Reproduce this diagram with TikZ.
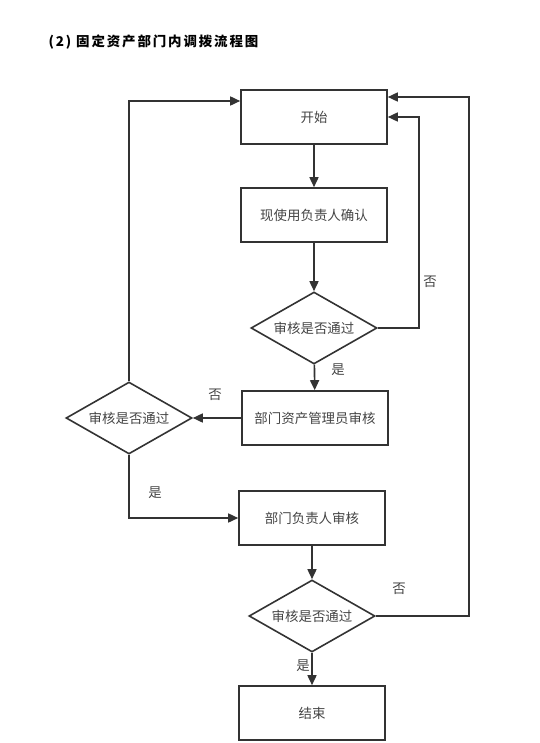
\documentclass[tikz,border=0pt]{standalone}
\usepackage{fontspec}
\setmainfont{Noto Sans CJK SC}
\usetikzlibrary{arrows.meta,shapes.geometric}
\definecolor{ln}{HTML}{333333}
\definecolor{tx}{HTML}{444444}
\tikzset{pin/.style={draw=ln, line width=1.6bp, -{Triangle[length=10bp,width=9bp]}},
  box/.style={draw=ln, line width=1.6bp, text=tx, minimum width=146bp, minimum height=54bp, inner sep=0},
  chk/.style={diamond, aspect=1.75, draw=ln, line width=1.6bp, text=tx, inner sep=0, minimum width=126bp, minimum height=72bp},
  lbl/.style={text=tx}}

\begin{document}
\begin{tikzpicture}[x=1bp, y=1bp, font=\fontsize{13.5}{16}\selectfont]
  \useasboundingbox (0,0) rectangle (540,-743);
  \node[anchor=west, font=\fontsize{13.5}{16}\selectfont\bfseries\addfontfeature{LetterSpace=14}] (title) at (45,-42) {(2)\hspace{5bp}固定资产部门内调拨流程图};
  % main column
  \node[box] (start) at (314,-117) {开始};
  \node[box] (confirm) at (314,-215) {现使用负责人确认};
  \node[chk] (chk1) at (314,-328) {审核是否通过};
  \node[box] (admin) at (315,-418) {部门资产管理员审核};
  \node[chk] (chk2) at (129,-418) {审核是否通过};
  \node[box] (head) at (312,-518) {部门负责人审核};
  \node[chk] (chk3) at (312,-616) {审核是否通过};
  \node[box] (stop) at (312,-713) {结束};
  % labels
  \node[lbl] (no1) at (430,-282) {否};
  \node[lbl] (yes1) at (338,-370) {是};
  \node[lbl] (no2) at (215,-395) {否};
  \node[lbl] (yes2) at (155,-493) {是};
  \node[lbl] (no3) at (399,-589) {否};
  \node[lbl] (yes3) at (303,-666) {是};
  % forward
  \draw[pin] (start) -- (confirm);
  \draw[pin] (confirm) -- (chk1);
  \draw[pin] (chk1) -- (admin);
  \draw[pin] (admin) -- (chk2);
  \draw[pin] (chk2.south) |- (head.west);
  \draw[pin] (head) -- (chk3);
  \draw[pin] (chk3) -- (stop);
  % back to start
  \draw[pin] (chk1.east) -- (419,-328) |- (start.east);
  \draw[pin] (chk2.north) |- ([yshift=16bp]start.west);
  \draw[pin] (chk3.east) -- (469,-616) |- ([yshift=20bp]start.east);
\end{tikzpicture}
\end{document}
